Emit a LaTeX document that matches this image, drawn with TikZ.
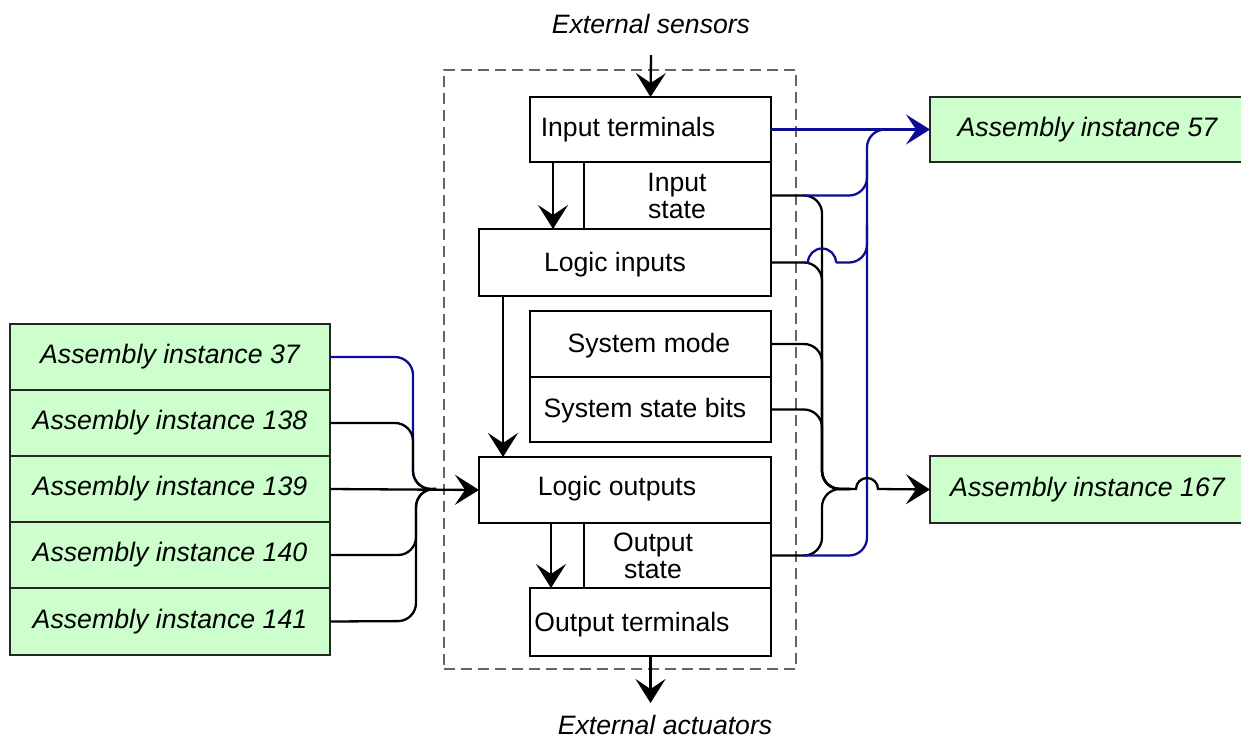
\documentclass[tikz,border=0pt]{standalone}
\usepackage{fontspec}
\setmainfont{Liberation Sans}
\usetikzlibrary{arrows.meta}
\definecolor{gfill}{RGB}{204,255,204}
\definecolor{busblue}{RGB}{12,12,150}
\definecolor{dashgray}{RGB}{100,100,100}
\begin{document}
\begin{tikzpicture}[x=1pt,y=-1pt,
  box/.style={draw=black, line width=2.4pt, fill=white, inner sep=0pt, outer sep=0pt},
  gbox/.style={box, fill=gfill, draw=black!85, font=\fontsize{26.7}{27}\selectfont\itshape},
  txt/.style={font=\fontsize{26.6}{27}\selectfont, align=center, inner sep=0pt},
  itxt/.style={txt, font=\fontsize{26.6}{27}\selectfont\itshape},
  container/.style={draw=dashgray, line width=2pt, dash pattern=on 11pt off 6pt, inner sep=0pt},
  wire/.style={draw=black, line width=2.3pt},
  bus/.style={draw=busblue, line width=2.3pt},
  rc/.style={rounded corners=18pt},
  tip/.style={-{Stealth[length=24pt,width=30pt,inset=10pt]}},
]
\useasboundingbox (0,0) rectangle (1241,740);

% dashed container
\node[container, minimum width=352pt, minimum height=599pt] (dc) at (620,369.5) {};

% inner blocks
\node[box, minimum width=241pt, minimum height=65pt] (it) at (650.5,129.5) {};
\node[box, minimum width=187pt, minimum height=67pt] (is) at (677.5,195.5) {};
\node[box, minimum width=292pt, minimum height=67pt] (li) at (625,262.5) {};
\node[box, minimum width=241pt, minimum height=66pt] (sm) at (650.5,344) {};
\node[box, minimum width=241pt, minimum height=65pt] (ss) at (650.5,409.5) {};
\node[box, minimum width=292pt, minimum height=66pt] (lo) at (625,490) {};
\node[box, minimum width=187pt, minimum height=65pt] (os) at (677.5,555.5) {};
\node[box, minimum width=241pt, minimum height=68pt] (ot) at (650.5,622) {};

\node[txt, anchor=base] (itT) at (628,136) {Input terminals};
\node[txt] (isT) at (677,196) {Input\\state};
\node[txt, anchor=base] (liT) at (615,271) {Logic inputs};
\node[txt, anchor=base] (smT) at (649,352) {System mode};
\node[txt, anchor=base] (ssT) at (645,417) {System state bits};
\node[txt, anchor=base] (loT) at (617,495) {Logic outputs};
\node[txt] (osT) at (653,556) {Output\\state};
\node[txt, anchor=base] (otT) at (632,631) {Output terminals};

% external labels
\node[itxt, anchor=base] (es) at (651,33) {External sensors};
\node[itxt, anchor=base] (ea) at (665,734) {External actuators};
\coordinate (esA) at (651,55);

% left assembly boxes
\node[gbox, minimum width=320pt, minimum height=66pt] (a37) at (170,357) {Assembly instance 37};
\node[gbox, minimum width=320pt, minimum height=66pt] (a138) at (170,423) {Assembly instance 138};
\node[gbox, minimum width=320pt, minimum height=66pt] (a139) at (170,489) {Assembly instance 139};
\node[gbox, minimum width=320pt, minimum height=66pt] (a140) at (170,555) {Assembly instance 140};
\node[gbox, minimum width=320pt, minimum height=67pt] (a141) at (170,621.5) {Assembly instance 141};

% right assembly boxes
\node[gbox, minimum width=315pt, minimum height=65pt] (a57) at (1087.5,129.5) {Assembly instance 57};
\node[gbox, minimum width=315pt, minimum height=67pt] (a167) at (1087.5,489.5) {Assembly instance 167};

% vertical flow
\draw[wire, tip] (esA) -- (it.north);
\draw[wire, tip] ([xshift=23pt]it.south west) -- ([xshift=23pt]it.south west |- li.north);
\draw[wire, tip] ([xshift=24pt]li.south west) -- ([xshift=24pt]li.south west |- lo.north);
\draw[wire, tip] ([xshift=72pt]lo.south west) -- ([xshift=72pt]lo.south west |- ot.north);
\draw[wire, tip] (ot.south) -- ++(0,47);

% left side merge
\coordinate (j1) at (436,489);
\draw[bus, rc] (a37.east) -- (413,357) -- (413,489) -- (j1);
\draw[wire, rc] (a138.east) -- (413,423) -- (413,489) -- (j1);
\draw[wire, rc] (a140.east) -- (416,555) -- (416,489) -- (j1);
\draw[wire, rc] (a141.east) -- (416,621) -- (416,489) -- (j1);
\draw[wire, tip] (a139.east) -- (lo.west);

% right side: black bus to instance 167
\coordinate (j2) at (850,489);
\draw[wire, rc] (is.east) -- (822,195.5) -- (822,489) -- (j2);
\draw[wire, rc] (li.east) -- (822,262.5) -- (822,489) -- (j2);
\draw[wire, rc] (sm.east) -- (822,344) -- (822,489) -- (j2);
\draw[wire, rc] (ss.east) -- (822,409.5) -- (822,489) -- (j2);
\draw[wire, rc] (os.east) -- (822,555.5) -- (822,489) -- (j2);

% right side: blue bus to instance 57
\draw[bus, rc] (804,555.5) -- (867,555.5) -- (867,129.5) -- (890,129.5);
\draw[bus, rc] (804,195.5) -- (867,195.5) -- (867,160);
\draw[bus] (804,262.5) -- (808,262.5) arc[start angle=180, end angle=0, radius=14pt];
\draw[bus, rc] (836,262.5) -- (867,262.5) -- (867,225);
\draw[bus, tip] (it.east) -- (a57.west);

% hop over blue bus into instance 167
\draw[wire, tip] (j2) -- (856,489) arc[start angle=180, end angle=0, radius=11pt] -- (a167.west);
\end{tikzpicture}
\end{document}
